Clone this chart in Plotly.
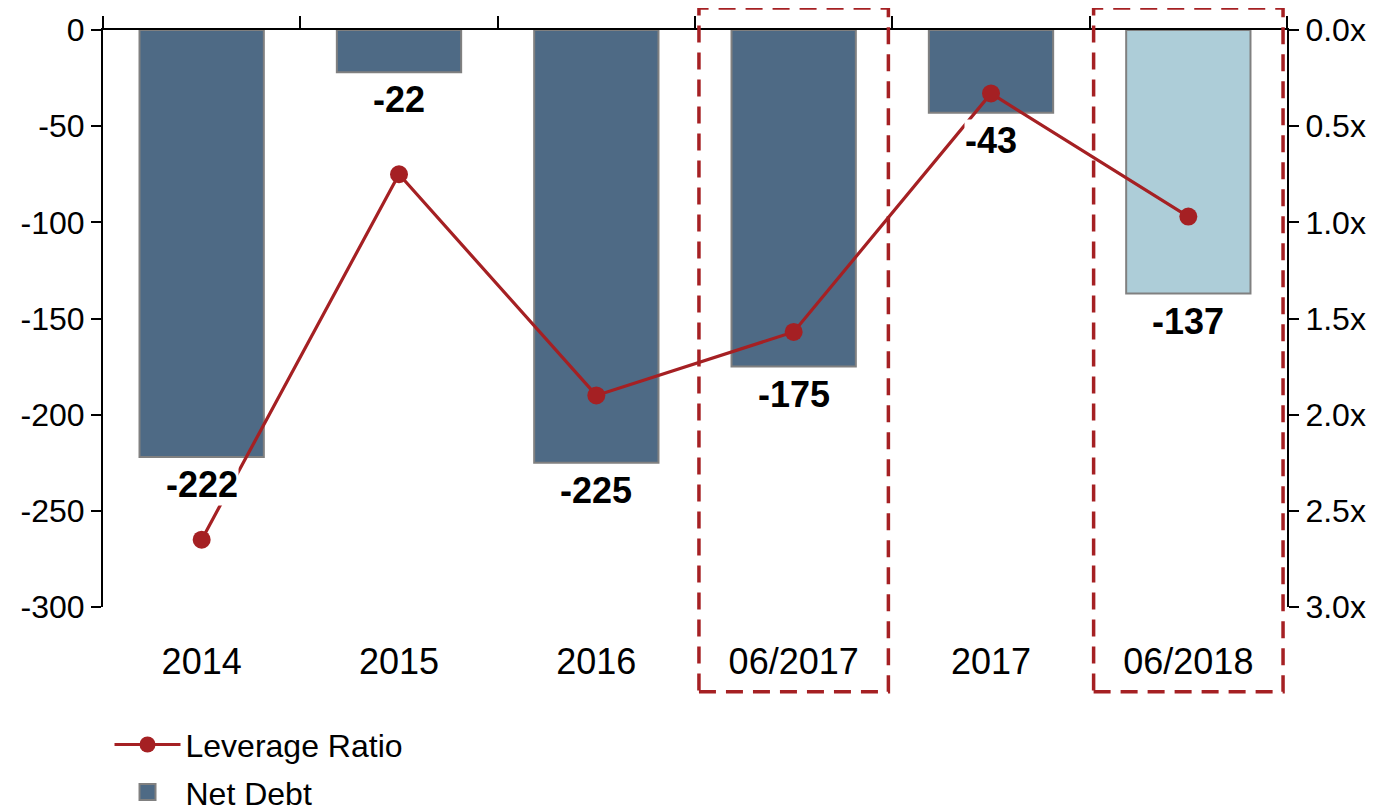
import plotly.graph_objects as go

categories = ["2014", "2015", "2016", "06/2017", "2017", "06/2018"]
net_debt = [-222, -22, -225, -175, -43, -137]
leverage = [2.65, 0.75, 1.90, 1.57, 0.33, 0.97]
bar_colors = ["#4E6A85", "#4E6A85", "#4E6A85", "#4E6A85", "#4E6A85", "#ADCDD8"]
highlighted = ["06/2017", "06/2018"]
left_ticks = [0, -50, -100, -150, -200, -250, -300]
right_ticks = [0.0, 0.5, 1.0, 1.5, 2.0, 2.5, 3.0]

FONT = "Liberation Sans, Arial, sans-serif"
RED = "#A52023"
BLUE = "#4E6A85"

fig = go.Figure()

fig.add_trace(go.Bar(
    x=categories, y=net_debt, name="Net Debt",
    marker=dict(color=bar_colors, line=dict(color="#808080", width=2)),
    width=0.63, xaxis="x", yaxis="y", showlegend=False,
))

fig.add_trace(go.Scatter(
    x=categories, y=leverage, name="Leverage Ratio",
    mode="lines+markers",
    line=dict(color=RED, width=3.2),
    marker=dict(color=RED, size=18),
    xaxis="x2", yaxis="y2", legendrank=1, legendgroup="a",
))

# legend entry for the bars (larger swatch than the default bar symbol)
fig.add_trace(go.Scatter(
    x=[None], y=[None], name="Net Debt", mode="markers",
    marker=dict(symbol="square", size=16, color=BLUE,
                line=dict(color="#808080", width=2)),
    xaxis="x", yaxis="y", legendrank=2, legendgroup="b",
))

# data labels under bars
for i, v in enumerate(net_debt):
    fig.add_annotation(
        x=i, y=v, xref="x", yref="y", text=f"<b>{v}</b>",
        showarrow=False, yanchor="top", yshift=-6,
        font=dict(family=FONT, size=36, color="black"),
        bgcolor="white", borderpad=0,
    )

# dashed highlight boxes
for h in highlighted:
    i = categories.index(h)
    fig.add_shape(
        type="rect", xref="x", yref="paper",
        x0=i - 0.48, x1=i + 0.48, y0=-0.147, y1=1.038,
        line=dict(color=RED, width=3.5, dash="17px,10px"),
        fillcolor="rgba(0,0,0,0)", layer="above",
    )

fig.update_layout(
    width=1380, height=809,
    margin=dict(l=95, r=101, t=22, b=210, autoexpand=False),
    paper_bgcolor="white", plot_bgcolor="white",
    font=dict(family=FONT, color="black"),
    showlegend=True,
    legend=dict(
        x=0.0055, y=-0.191, xanchor="left", yanchor="top",
        font=dict(family=FONT, size=32, color="black"),
        traceorder="grouped", tracegroupgap=3, itemwidth=66,
        bgcolor="rgba(0,0,0,0)",
    ),
    xaxis=dict(
        type="category", categoryorder="array", categoryarray=categories,
        range=[-0.5, 5.5], showline=False, showgrid=False, ticks="",
        tickfont=dict(family=FONT, size=36, color="black"),
        ticklabelstandoff=30, automargin=False,
    ),
    xaxis2=dict(
        type="category", categoryorder="array", categoryarray=categories,
        range=[-0.5, 5.5], overlaying="x", side="top", anchor="y2",
        showline=True, linecolor="black", linewidth=2,
        ticks="outside", tickson="boundaries", ticklen=12,
        tickcolor="black", tickwidth=2,
        showticklabels=False, showgrid=False, automargin=False,
    ),
    yaxis=dict(
        range=[-300, 0], tickvals=left_ticks,
        ticktext=[str(t) for t in left_ticks],
        showgrid=False, zeroline=False,
        showline=True, linecolor="black", linewidth=2,
        ticks="outside", ticklen=10, tickcolor="black", tickwidth=2,
        tickfont=dict(family=FONT, size=32, color="black"),
        automargin=False,
    ),
    yaxis2=dict(
        range=[3, 0], tickvals=right_ticks,
        ticktext=[f"{t:.1f}x" for t in right_ticks],
        overlaying="y", side="right", anchor="x2",
        showgrid=False, zeroline=False,
        showline=True, linecolor="black", linewidth=2,
        ticks="outside", ticklen=10, tickcolor="black", tickwidth=2,
        tickfont=dict(family=FONT, size=32, color="black"),
        automargin=False,
    ),
)

fig.write_html("out.html")
